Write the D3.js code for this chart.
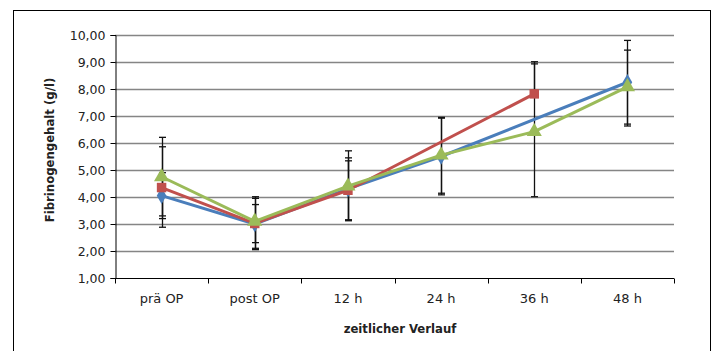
<!DOCTYPE html>
<html><head><meta charset="utf-8">
<script src="https://cdn.jsdelivr.net/npm/d3@7"></script>
<style>body{margin:0;background:#fff}svg{display:block}</style>
</head><body>
<svg id="c" width="718" height="351"></svg>
<script>
const categories = ["prä OP","post OP","12 h","24 h","36 h","48 h"];
const yTicks = [1,2,3,4,5,6,7,8,9,10];
const blue  = [4.05, 3.00, 4.30, 5.50, null, 8.25];
const red   = [4.35, 3.02, 4.25, null, 7.82, null];
const green = [4.75, 3.10, 4.40, 5.55, 6.42, 8.08];
const blueLow   = [3.20, 2.05, 3.15, 4.08, null, 6.70];
const blueHigh  = [4.90, 3.95, 5.45, 6.92, null, 9.80];
const redLow    = [2.88, 2.31, 3.15, null, 7.82, null];
const redHigh   = [5.86, 3.72, 5.34, null, 9.01, null];
const greenLow  = [3.30, 2.10, 3.12, 4.14, 4.01, 6.63];
const greenHigh = [6.21, 4.01, 5.71, 6.95, 8.93, 9.44];

const series = [
  {name:"blue",  vals:blue,  lo:blueLow,  hi:blueHigh,  color:"#4A7EBB", sym:d3.symbolDiamond, size:80},
  {name:"red",   vals:red,   lo:redLow,   hi:redHigh,   color:"#C0504D", sym:d3.symbolSquare,  size:90},
  {name:"green", vals:green, lo:greenLow, hi:greenHigh, color:"#9BBB59", sym:d3.symbolTriangle,size:100}
];

const svg = d3.select("#c");
const L = 115, R = 674, T = 35, B = 278;
const x = d3.scaleBand().domain(categories).range([L, R]);
const y = d3.scaleLinear().domain([1, 10]).range([B, T]);
const font = "'DejaVu Sans', sans-serif";

// outer frame
svg.append("rect").attr("x",13.5).attr("y",10.5).attr("width",697).attr("height",360)
  .attr("fill","none").attr("stroke","#000").attr("stroke-width",1);

// gridlines
svg.append("g").selectAll("line").data(yTicks.slice(1)).join("line")
  .attr("x1",L).attr("x2",R).attr("y1",d=>Math.round(y(d))+0.5).attr("y2",d=>Math.round(y(d))+0.5)
  .attr("stroke","#858585").attr("stroke-width",1.5);

// y axis
const yAxis = d3.axisLeft(y).tickValues(yTicks).tickSize(5).tickPadding(5)
  .tickFormat(d => d3.format(".2f")(d).replace(".", ","));
const gy = svg.append("g").attr("transform",`translate(${L+0.5},0)`).call(yAxis);
gy.select(".domain").attr("stroke","#000");
gy.selectAll(".tick line").attr("stroke","#000");
gy.selectAll("text").attr("font-family",font).attr("font-size",12.5).attr("fill","#222");

// x axis
const gx = svg.append("g").attr("transform",`translate(0,${Math.round(B)+0.5})`);
gx.append("line").attr("x1",L).attr("x2",R).attr("stroke","#000");
const bounds = d3.range(categories.length+1).map(i => L + i*x.step());
gx.selectAll("line.tk").data(bounds).join("line").attr("class","tk")
  .attr("x1",d=>Math.round(d)+0.5).attr("x2",d=>Math.round(d)+0.5).attr("y1",0).attr("y2",5).attr("stroke","#000");
gx.selectAll("text").data(categories).join("text")
  .attr("x",d=>x(d)+x.bandwidth()/2).attr("y",24).attr("text-anchor","middle")
  .attr("font-family",font).attr("font-size",13).attr("fill","#222").text(d=>d);

// axis titles
svg.append("text").attr("x",400).attr("y",333).attr("text-anchor","middle")
  .attr("font-family",font).attr("font-size",11.7).attr("font-weight","bold").attr("fill","#222")
  .text("zeitlicher Verlauf");
svg.append("text").attr("transform","translate(54,150) rotate(-90)").attr("text-anchor","middle")
  .attr("font-family",font).attr("font-size",11.7).attr("font-weight","bold").attr("fill","#222")
  .text("Fibrinogengehalt (g/l)");

const cx = c => x(c) + x.bandwidth()/2;

// error bars
const eg = svg.append("g");
series.forEach(s => {
  categories.forEach((c,i) => {
    if (s.lo[i] == null) return;
    const xx = Math.round(cx(c))+0.5;
    eg.append("line").attr("x1",xx).attr("x2",xx).attr("y1",y(s.lo[i])).attr("y2",y(s.hi[i]))
      .attr("stroke","#111").attr("stroke-width",1.3);
    [s.lo[i], s.hi[i]].forEach(v => {
      eg.append("line").attr("x1",xx-3.5).attr("x2",xx+3.5).attr("y1",y(v)).attr("y2",y(v))
        .attr("stroke","#111").attr("stroke-width",1.3);
    });
  });
});

// lines & markers
series.forEach(s => {
  const pts = categories.map((c,i)=>({c, v:s.vals[i]})).filter(d=>d.v!=null);
  svg.append("path").datum(pts)
    .attr("d", d3.line().x(d=>cx(d.c)).y(d=>y(d.v)))
    .attr("fill","none").attr("stroke",s.color).attr("stroke-width",3).attr("stroke-linejoin","round");
  svg.append("g").selectAll("path").data(pts).join("path")
    .attr("transform",d=>`translate(${cx(d.c)},${y(d.v)})`)
    .attr("d", d3.symbol().type(s.sym).size(s.size))
    .attr("fill",s.color);
});
</script>
</body></html>
